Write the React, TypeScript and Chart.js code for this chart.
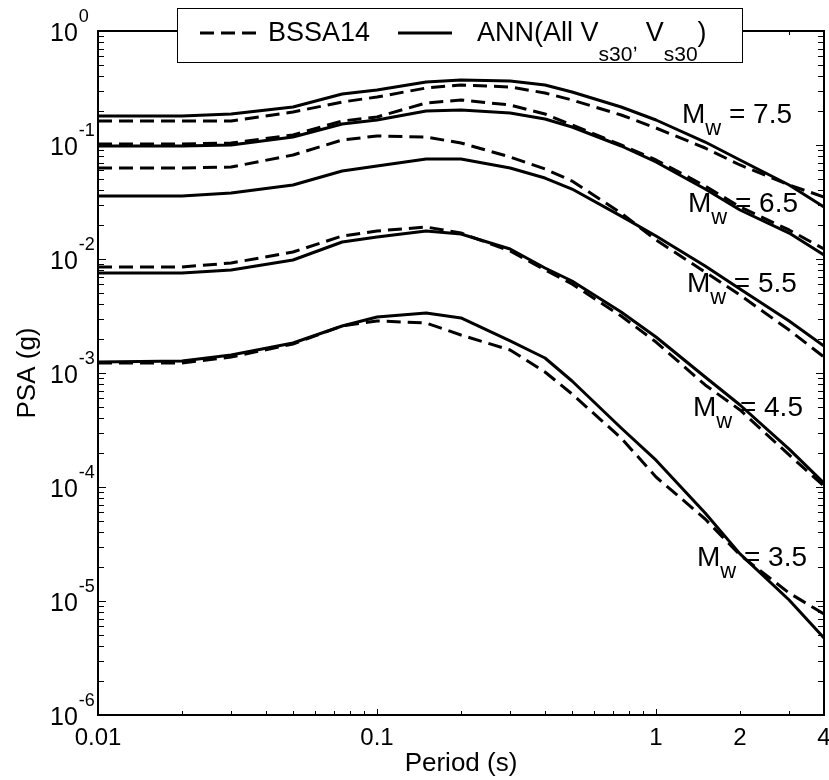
import { useEffect, useRef } from 'react';
import { Chart, registerables } from 'chart.js';

Chart.register(...registerables);

// Periods (s)
const periods = [0.01, 0.02, 0.03, 0.05, 0.075, 0.1, 0.15, 0.2, 0.3, 0.4, 0.5, 0.75, 1, 1.5, 2, 3, 4];

// BSSA14 (dashed) and ANN (solid) PSA (g) for each magnitude
const bssa75 = [0.1624, 0.1624, 0.1624, 0.1948, 0.2383, 0.2637, 0.3162, 0.336, 0.3227, 0.2858, 0.2481, 0.1833, 0.141, 0.0941, 0.0668, 0.0446, 0.035];
const ann75 = [0.1796, 0.1796, 0.187, 0.2154, 0.2802, 0.3037, 0.357, 0.3717, 0.3641, 0.336, 0.2917, 0.2154, 0.1657, 0.1062, 0.0739, 0.0446, 0.0286];
const bssa65 = [0.102, 0.102, 0.1041, 0.1224, 0.1624, 0.176, 0.2336, 0.2481, 0.2243, 0.187, 0.1498, 0.1, 0.0739, 0.0437, 0.0286, 0.01797, 0.01224];
const ann65 = [0.098, 0.098, 0.1, 0.1175, 0.1528, 0.1657, 0.1987, 0.2028, 0.1909, 0.1691, 0.1438, 0.098, 0.071, 0.0411, 0.0269, 0.0169, 0.01084];
const bssa55 = [0.0628, 0.0628, 0.0641, 0.0817, 0.1106, 0.1199, 0.1175, 0.1041, 0.0785, 0.0616, 0.0483, 0.0253, 0.01468, 0.00769, 0.00483, 0.00238, 0.00138];
const ann55 = [0.0357, 0.0357, 0.0379, 0.0446, 0.0591, 0.0654, 0.0754, 0.0754, 0.0628, 0.0513, 0.0411, 0.0238, 0.0159, 0.00868, 0.00546, 0.00286, 0.00172];
const bssa45 = [0.00851, 0.00851, 0.00922, 0.01152, 0.0159, 0.0176, 0.01909, 0.0169, 0.01175, 0.00801, 0.00604, 0.00316, 0.00187, 0.000785, 0.000474, 0.000191, 0.000102];
const ann45 = [0.00754, 0.00754, 0.00801, 0.0098, 0.0141, 0.0156, 0.0176, 0.01657, 0.01224, 0.00834, 0.00641, 0.00343, 0.00207, 0.000922, 0.000524, 0.000215, 0.000108];
const bssa35 = [0.001224, 0.001224, 0.00138, 0.001797, 0.002585, 0.00286, 0.002746, 0.002154, 0.00159, 0.00102, 0.000654, 0.000269, 0.0001224, 0.0000524, 0.0000253, 0.00001175, 0.0000077];
const ann35 = [0.00125, 0.001274, 0.001438, 0.001833, 0.002585, 0.0031, 0.00336, 0.00304, 0.00191, 0.001354, 0.000851, 0.000329, 0.000172, 0.0000591, 0.0000259, 0.0000102, 0.00000474];

// Tick labels
const xTickValues = [0.01, 0.1, 1, 2, 4];
const xTickLabels = ['0.01', '0.1', '1', '2', '4'];
const yTickExponents = [0, -1, -2, -3, -4, -5, -6];

// Magnitude labels (anchor in data coordinates: period, PSA at text baseline)
const magLabels = [
  { value: '7.5', period: 1.239, psa: 0.156 },
  { value: '6.5', period: 1.302, psa: 0.02584 },
  { value: '5.5', period: 1.29, psa: 0.00514 },
  { value: '4.5', period: 1.356, psa: 0.00042 },
  { value: '3.5', period: 1.402, psa: 0.0000203 },
];

const FONT = '"Liberation Sans", Arial, Helvetica, sans-serif';

const toPts = (vals: number[]) => periods.map((p, i) => ({ x: p, y: vals[i] }));

const dashedStyle = { borderDash: [14, 7], borderWidth: 3 };
const solidStyle = { borderDash: [] as number[], borderWidth: 3 };

const overlayPlugin = {
  id: 'overlay',
  afterDraw(chart: any) {
    const { ctx, chartArea: ca, scales } = chart;
    const xs = scales.x;
    const ys = scales.y;
    ctx.save();
    ctx.strokeStyle = '#000';
    ctx.fillStyle = '#000';

    // Y ticks (inward, left and right)
    ctx.lineWidth = 1;
    for (let d = -6; d <= 0; d++) {
      for (let m = 1; m <= 9; m++) {
        const v = m * Math.pow(10, d);
        if (v > 1.0000001) break;
        const py = Math.round(ys.getPixelForValue(v)) + 0.5;
        const len = m === 1 ? 8 : 6;
        ctx.beginPath();
        ctx.moveTo(ca.left, py);
        ctx.lineTo(ca.left + len, py);
        ctx.moveTo(ca.right, py);
        ctx.lineTo(ca.right - len, py);
        ctx.stroke();
      }
    }
    // X ticks (inward, bottom and top)
    for (let d = -2; d <= 0; d++) {
      for (let m = 1; m <= 9; m++) {
        const v = m * Math.pow(10, d);
        if (v > 4.0000001) break;
        const px = Math.round(xs.getPixelForValue(v)) + 0.5;
        const len = m === 1 ? 6 : 4;
        ctx.beginPath();
        ctx.moveTo(px, ca.bottom);
        ctx.lineTo(px, ca.bottom - len);
        ctx.moveTo(px, ca.top);
        ctx.lineTo(px, ca.top + len);
        ctx.stroke();
      }
    }

    // Axis box
    ctx.lineWidth = 2;
    ctx.strokeRect(ca.left, ca.top, ca.right - ca.left, ca.bottom - ca.top);

    // Y tick labels 10^n
    ctx.textAlign = 'left';
    ctx.textBaseline = 'alphabetic';
    for (const e of yTickExponents) {
      const py = ys.getPixelForValue(Math.pow(10, e));
      ctx.font = `25px ${FONT}`;
      ctx.fillText('10', 50, py + 10);
      const w = ctx.measureText('10').width;
      ctx.font = `18px ${FONT}`;
      ctx.fillText(String(e), 50 + w + 1, py - 9);
    }

    // X tick labels
    ctx.textAlign = 'center';
    ctx.font = `24px ${FONT}`;
    xTickValues.forEach((v, i) => {
      ctx.fillText(xTickLabels[i], xs.getPixelForValue(v), 745);
    });

    // Axis titles
    ctx.font = `26px ${FONT}`;
    ctx.fillText('Period (s)', (ca.left + ca.right) / 2, 771);
    ctx.save();
    ctx.translate(35, (ca.top + ca.bottom) / 2);
    ctx.rotate(-Math.PI / 2);
    ctx.fillText('PSA (g)', 0, 0);
    ctx.restore();

    // Magnitude labels
    ctx.textAlign = 'left';
    for (const lab of magLabels) {
      const px = xs.getPixelForValue(lab.period);
      const py = ys.getPixelForValue(lab.psa);
      ctx.font = `28px ${FONT}`;
      ctx.fillText('M', px, py);
      let cx = px + ctx.measureText('M').width;
      ctx.font = `22px ${FONT}`;
      ctx.fillText('w', cx, py + 12);
      cx += ctx.measureText('w').width;
      ctx.font = `28px ${FONT}`;
      ctx.fillText(' = ' + lab.value, cx, py);
    }

    // Legend
    const lx = 177, ly = 8, lw = 565, lh = 54;
    ctx.fillStyle = '#fff';
    ctx.fillRect(lx, ly, lw, lh);
    ctx.lineWidth = 1;
    ctx.strokeStyle = '#000';
    ctx.strokeRect(lx + 0.5, ly + 0.5, lw, lh);
    ctx.fillStyle = '#000';
    ctx.lineWidth = 3;
    ctx.lineCap = 'butt';
    ctx.setLineDash([14, 7]);
    ctx.beginPath();
    ctx.moveTo(200, 33);
    ctx.lineTo(256, 33);
    ctx.stroke();
    ctx.setLineDash([]);
    ctx.beginPath();
    ctx.moveTo(398, 33);
    ctx.lineTo(452, 33);
    ctx.stroke();
    ctx.font = `27px ${FONT}`;
    ctx.fillText('BSSA14', 268, 41);
    let tx = 477;
    const seg = (t: string, size: number, dy: number) => {
      ctx.font = `${size}px ${FONT}`;
      ctx.fillText(t, tx, 41 + dy);
      tx += ctx.measureText(t).width;
    };
    seg('ANN(All V', 27, 0);
    seg('s30', 21, 20);
    seg(',', 21, 8);
    seg(' V', 27, 0);
    seg('s30', 21, 20);
    seg(')', 27, 0);

    ctx.restore();
  },
};

export default function App() {
  const ref = useRef<HTMLCanvasElement>(null);
  useEffect(() => {
    if (!ref.current) return;
    const mk = (label: string, vals: number[], dashed: boolean) => ({
      label,
      data: toPts(vals),
      borderColor: '#000',
      backgroundColor: '#000',
      pointRadius: 0,
      tension: 0,
      fill: false,
      borderCapStyle: 'butt' as const,
      borderJoinStyle: 'round' as const,
      ...(dashed ? dashedStyle : solidStyle),
    });
    const chart = new Chart(ref.current, {
      type: 'line',
      data: {
        datasets: [
          mk('BSSA14 Mw7.5', bssa75, true),
          mk('ANN Mw7.5', ann75, false),
          mk('BSSA14 Mw6.5', bssa65, true),
          mk('ANN Mw6.5', ann65, false),
          mk('BSSA14 Mw5.5', bssa55, true),
          mk('ANN Mw5.5', ann55, false),
          mk('BSSA14 Mw4.5', bssa45, true),
          mk('ANN Mw4.5', ann45, false),
          mk('BSSA14 Mw3.5', bssa35, true),
          mk('ANN Mw3.5', ann35, false),
        ],
      },
      options: {
        animation: false,
        responsive: false,
        devicePixelRatio: 1,
        layout: { padding: { top: 31, right: 5, left: 0, bottom: 0 } },
        plugins: { legend: { display: false }, title: { display: false }, tooltip: { enabled: false } },
        events: [],
        scales: {
          x: {
            type: 'logarithmic',
            min: 0.01,
            max: 4,
            grid: { display: false },
            border: { display: false },
            ticks: { display: false },
            afterFit: (s: any) => { s.height = 65; },
          },
          y: {
            type: 'logarithmic',
            min: 1e-6,
            max: 1,
            grid: { display: false },
            border: { display: false },
            ticks: { display: false },
            afterFit: (s: any) => { s.width = 98; },
          },
        },
      },
      plugins: [overlayPlugin],
    });
    return () => chart.destroy();
  }, []);
  return (
    <div style={{ position: 'fixed', left: 0, top: 0, width: 829, height: 780, background: '#fff', overflow: 'hidden' }}>
      <canvas ref={ref} width={829} height={780} style={{ width: 829, height: 780, display: 'block' }} />
    </div>
  );
}
